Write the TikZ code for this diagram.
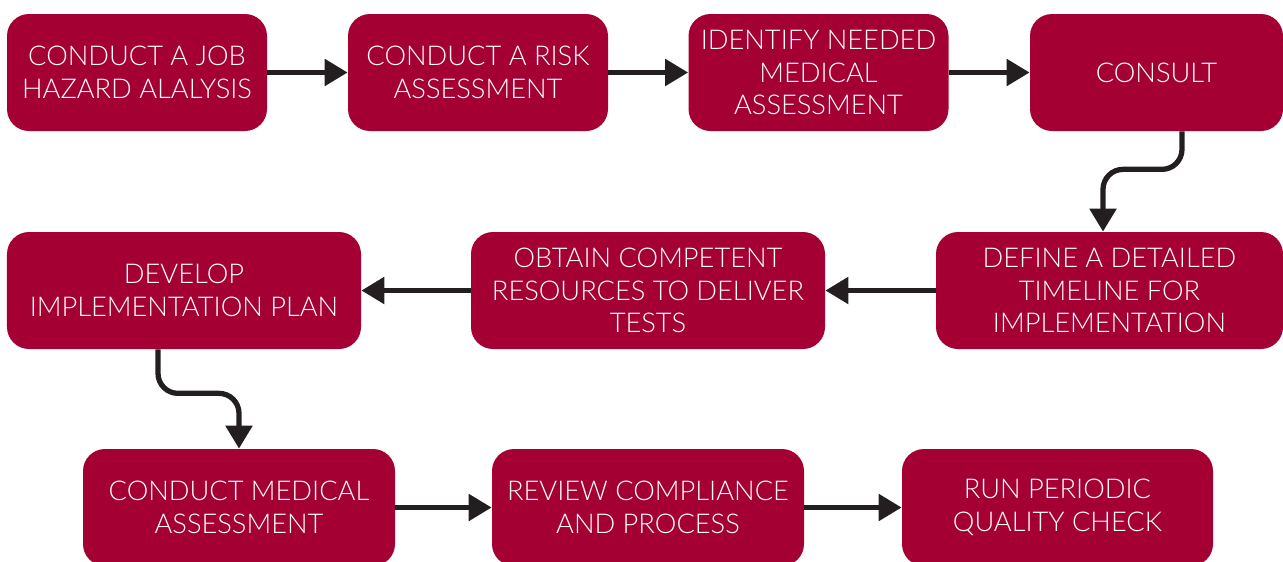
\documentclass[tikz,border=0pt]{standalone}
\usepackage{fontspec}
\setmainfont{Lato}[UprightFont=* Light]
\usetikzlibrary{arrows.meta}
\definecolor{boxred}{HTML}{A50034}
\definecolor{arrowgray}{HTML}{231F20}

\begin{document}
\begin{tikzpicture}[
    stepbox/.style={fill=boxred, rounded corners=0.44cm, minimum height=2.34cm,
        text=white, align=center, inner sep=0pt,
        font=\fontsize{15.5}{18.4}\selectfont},
    flow/.style={draw=arrowgray, line width=3pt,
        -{Triangle[length=0.46cm, width=0.52cm]}}
]
    \useasboundingbox (0,0) rectangle (25.66,-11.22);

    % first row, left to right
    \node[stepbox, minimum width=5.2cm] (jha) at (2.74,-1.45) {CONDUCT A JOB\\HAZARD ALALYSIS};
    \node[stepbox, minimum width=5.2cm] (risk) at (9.56,-1.45) {CONDUCT A RISK\\ASSESSMENT};
    \node[stepbox, minimum width=5.2cm] (needed) at (16.37,-1.45) {IDENTIFY NEEDED\\MEDICAL\\ASSESSMENT};
    \node[stepbox, minimum width=5.06cm] (consult) at (23.13,-1.45) {CONSULT};

    % second row, right to left
    \node[stepbox, minimum width=6.94cm] (timeline) at (22.19,-5.81) {DEFINE A DETAILED\\TIMELINE FOR\\IMPLEMENTATION};
    \node[stepbox, minimum width=7.08cm] (obtain) at (12.96,-5.81) {OBTAIN COMPETENT\\RESOURCES TO DELIVER\\TESTS};
    \node[stepbox, minimum width=7.08cm] (plan) at (3.68,-5.81) {DEVELOP\\IMPLEMENTATION PLAN};

    % third row, left to right
    \node[stepbox, minimum width=6.24cm] (medical) at (4.78,-10.15) {CONDUCT MEDICAL\\ASSESSMENT};
    \node[stepbox, minimum width=6.24cm] (review) at (12.96,-10.15) {REVIEW COMPLIANCE\\AND PROCESS};
    \node[stepbox, minimum width=6.22cm] (check) at (21.15,-10.15) {RUN PERIODIC\\QUALITY CHECK};

    % straight arrows
    \draw[flow] (jha.east) -- (risk.west);
    \draw[flow] (risk.east) -- (needed.west);
    \draw[flow] (needed.east) -- (consult.west);
    \draw[flow] (timeline.west) -- (obtain.east);
    \draw[flow] (obtain.west) -- (plan.east);
    \draw[flow] (medical.east) -- (review.west);
    \draw[flow] (review.east) -- (check.west);

    % bent arrows between rows
    \draw[flow, rounded corners=0.4cm] ([xshift=0.51cm]consult.south) -- ++(0,-0.76) -| ([xshift=-0.13cm]timeline.north);
    \draw[flow, rounded corners=0.4cm] ([xshift=-0.52cm]plan.south) -- ++(0,-0.88) -| (medical.north);
\end{tikzpicture}
\end{document}
